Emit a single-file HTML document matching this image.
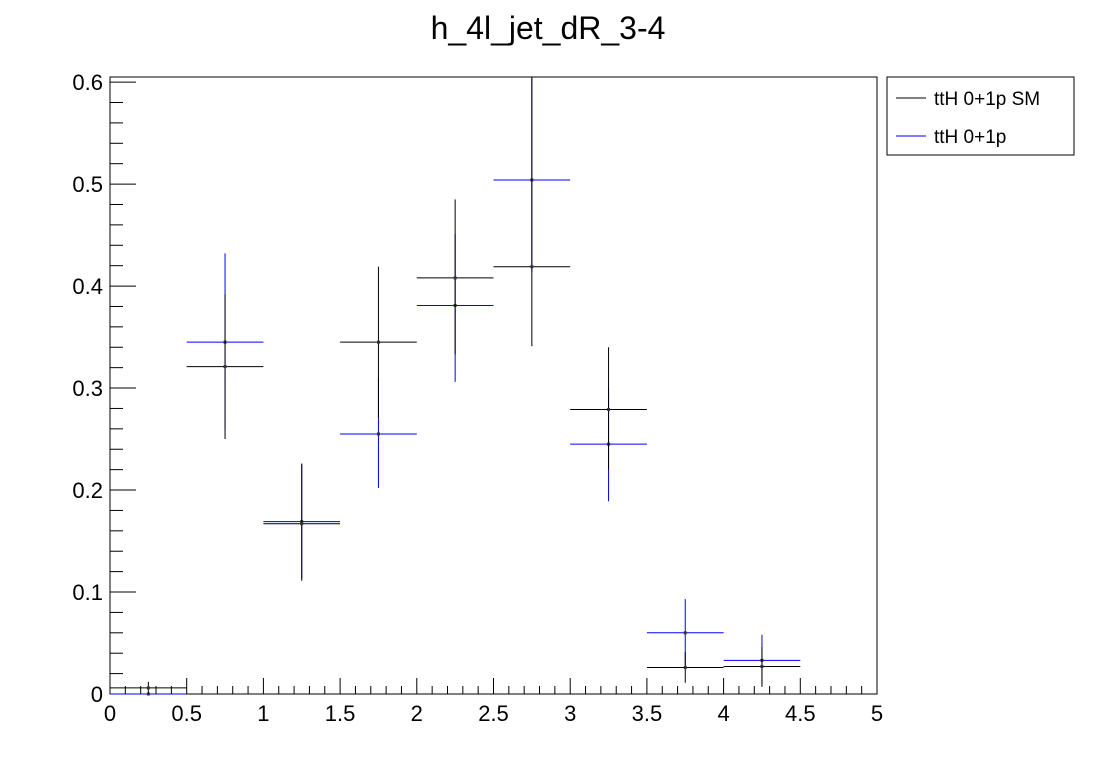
<!DOCTYPE html>
<html><head><meta charset="utf-8"><style>
body{margin:0;background:#fff;}
svg{display:block;font-family:"Liberation Sans",sans-serif;}
</style></head><body>
<svg id="c" width="1096" height="772">
<text x="548" y="39" text-anchor="middle" font-size="32">h_4l_jet_dR_3-4</text>
<rect x="110" y="77" width="767" height="617" fill="none" stroke="#000" stroke-width="1"/>
<g id="ax"></g>
<g id="marks"></g>
<g>
<rect x="887" y="77" width="187" height="78" fill="#fff" stroke="#000"/>
<g><line x1="896" y1="98" x2="926" y2="98" stroke="#000"/><text x="934" y="105" font-size="19">ttH 0+1p SM</text></g>
<g><line x1="896" y1="136" x2="926" y2="136" stroke="#00f"/><text x="934" y="143" font-size="19">ttH 0+1p</text></g>
</g>
</svg>
<script>
const binEdges=[0,0.5,1,1.5,2,2.5,3,3.5,4,4.5];
const smValues=[0.006,0.321,0.167,0.345,0.408,0.419,0.279,0.026,0.027];
const smErrLo=[0.006,0.071,0.056,0.074,0.075,0.078,0.059,0.015,0.020];
const smErrHi=[0.006,0.071,0.059,0.074,0.077,0.19,0.061,0.015,0.019];
const bsmValues=[0,0.345,0.169,0.255,0.381,0.504,0.245,0.060,0.033];
const bsmErrLo=[0,0.085,0.056,0.053,0.075,0.09,0.056,0.032,0.023];
const bsmErrHi=[0,0.087,0.056,0.055,0.07,0.1,0.055,0.033,0.025];
const xTicks=["0","0.5","1","1.5","2","2.5","3","3.5","4","4.5","5"];
const yTicks=["0","0.1","0.2","0.3","0.4","0.5","0.6"];
const X0=110,X1=877,Y0=694,Y1=77,XMAX=5,YMAX=0.605;
const xs=v=>X0+(X1-X0)*v/XMAX;
const ys=v=>Y0-(Y0-Y1)*Math.min(v,YMAX)/YMAX;
const NS="http://www.w3.org/2000/svg";
function mk(p,t,a){const e=document.createElementNS(NS,t);for(const k in a)e.setAttribute(k,a[k]);p.appendChild(e);return e;}
const ax=document.getElementById('ax');
for(let i=0;i<=50;i++){const v=i*0.1;const x=xs(v);const maj=i%5===0;
 const t=mk(ax,'line',{x1:x,x2:x,y1:Y0,y2:Y0-(maj?16:8),stroke:'#000'});
 
 }
xTicks.forEach(s=>{const t=mk(ax,'text',{x:xs(parseFloat(s)),y:721,'text-anchor':'middle','font-size':22});t.textContent=s;
 
 });
for(let i=0;i<=30;i++){const v=i*0.02;const y=ys(v);const maj=i%5===0;
 const t=mk(ax,'line',{x1:X0,x2:X0+(maj?26:13),y1:y,y2:y,stroke:'#000'});
 
 }
yTicks.forEach(s=>{const t=mk(ax,'text',{x:103,y:ys(parseFloat(s))+8,'text-anchor':'end','font-size':22});t.textContent=s;
 
 });
const marks=document.getElementById('marks');
function series(vals,lo,hi,col,name){
 const g=mk(marks,'g',{});
 
 
 vals.forEach((v,i)=>{const a=binEdges[i],b=a+0.5,c=(a+b)/2;
  const p=mk(g,'g',{});
  
  
  mk(p,'line',{x1:xs(a),x2:xs(b),y1:ys(v),y2:ys(v),stroke:col});
  mk(p,'line',{x1:xs(c),x2:xs(c),y1:ys(v-lo[i]),y2:ys(v+hi[i]),stroke:col});
  mk(p,'rect',{x:xs(c)-1.5,y:ys(v)-1.5,width:3,height:3,fill:'#333'});
 });
}
series(bsmValues,bsmErrLo,bsmErrHi,'#00f','bsm');
series(smValues,smErrLo,smErrHi,'#000','sm');
</script>
</body></html>
